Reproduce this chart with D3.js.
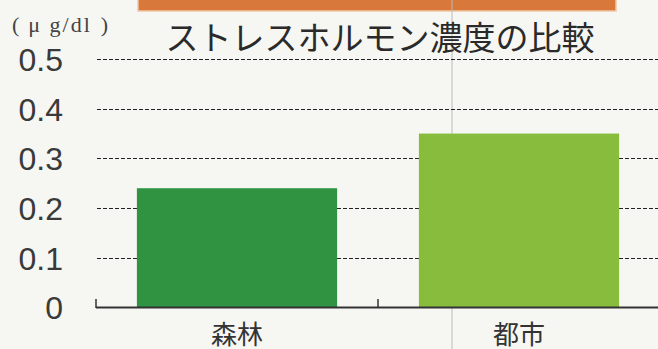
<!DOCTYPE html>
<html>
<head>
<meta charset="utf-8">
<script src="https://cdn.jsdelivr.net/npm/d3@7"></script>
<style>
  html, body { margin: 0; padding: 0; background: #f6f7f2; }
  svg { display: block; }
</style>
</head>
<body>
<svg id="chart" width="658" height="349"></svg>
<script>
// Stress hormone (cortisol) concentration: forest vs city
const categories = ["森林", "都市"];
const values = [0.24, 0.35];
const barColors = ["#2f9341", "#87bc3d"];
const yTicks = [0, 0.1, 0.2, 0.3, 0.4, 0.5];
const yTickLabels = ["0", "0.1", "0.2", "0.3", "0.4", "0.5"];
const title = "ストレスホルモン濃度の比較";
const unitParts = ["(", "μ g/dl", ")"];

const W = 658, H = 349;
const svg = d3.select("#chart");

svg.append("rect").attr("width", W).attr("height", H).attr("fill", "#f6f7f2");

// orange header band above the title
svg.append("rect")
  .attr("x", 138).attr("y", -2).attr("width", 478).attr("height", 13)
  .attr("fill", "#d9783b").attr("stroke", "#f0c7a6").attr("stroke-width", 1.5);

const x = d3.scaleBand().domain(categories).range([96, 660])
  .paddingInner(0.29).paddingOuter(0.145);
const y = d3.scaleLinear().domain([0, 0.5]).range([307.5, 59]);

// faint vertical fold line
svg.append("line")
  .attr("x1", 452).attr("x2", 452).attr("y1", 0).attr("y2", H)
  .attr("stroke", "#b9bcb8").attr("stroke-width", 1);

// dashed gridlines
svg.append("g").selectAll("line")
  .data(yTicks.filter(d => d > 0))
  .join("line")
  .attr("x1", 97).attr("x2", W)
  .attr("y1", d => Math.round(y(d)) + 0.5).attr("y2", d => Math.round(y(d)) + 0.5)
  .attr("stroke", "#222").attr("stroke-width", 1)
  .attr("stroke-dasharray", "4,2");

// bars
svg.append("g").selectAll("rect")
  .data(categories)
  .join("rect")
  .attr("x", d => x(d))
  .attr("width", x.bandwidth())
  .attr("y", (d, i) => y(values[i]))
  .attr("height", (d, i) => y(0) - y(values[i]))
  .attr("fill", (d, i) => barColors[i]);

// baseline and category boundary ticks
svg.append("line")
  .attr("x1", 96).attr("x2", W).attr("y1", 307.5).attr("y2", 307.5)
  .attr("stroke", "#333").attr("stroke-width", 2);
const step = x.step();
const boundaries = [96, 96 + step];
svg.append("g").selectAll("line")
  .data(boundaries)
  .join("line")
  .attr("x1", d => d).attr("x2", d => d)
  .attr("y1", 299).attr("y2", 308)
  .attr("stroke", "#333").attr("stroke-width", 1.5);

// y tick labels
svg.append("g").selectAll("text")
  .data(yTicks)
  .join("text")
  .attr("x", 63)
  .attr("y", d => y(d))
  .attr("dy", "0.37em")
  .attr("text-anchor", "end")
  .attr("font-family", "Liberation Sans, Arial, sans-serif")
  .attr("font-size", 32)
  .attr("fill", "#3a3a3a")
  .text((d, i) => yTickLabels[i]);

// category labels
svg.append("g").selectAll("text")
  .data(categories)
  .join("text")
  .attr("x", d => x(d) + x.bandwidth() / 2)
  .attr("y", 344)
  .attr("text-anchor", "middle")
  .attr("font-family", "Noto Sans CJK JP, sans-serif")
  .attr("font-size", 26)
  .attr("fill", "#333")
  .text(d => d);

// title
svg.append("text")
  .attr("x", 380).attr("y", 50)
  .attr("text-anchor", "middle")
  .attr("font-family", "Noto Sans CJK JP, sans-serif")
  .attr("font-size", 33)
  .attr("fill", "#2a2a2a")
  .text(title);

// unit label with wide bracket spacing
const unit = svg.append("text")
  .attr("x", 12).attr("y", 32)
  .attr("font-family", "Liberation Serif, DejaVu Serif, serif")
  .attr("font-size", 22)
  .attr("fill", "#444");
unit.selectAll("tspan")
  .data(unitParts)
  .join("tspan")
  .attr("dx", (d, i) => i === 0 ? 0 : 9)
  .attr("letter-spacing", (d, i) => i === 1 ? 2 : 0)
  .text(d => d);
</script>
</body>
</html>
